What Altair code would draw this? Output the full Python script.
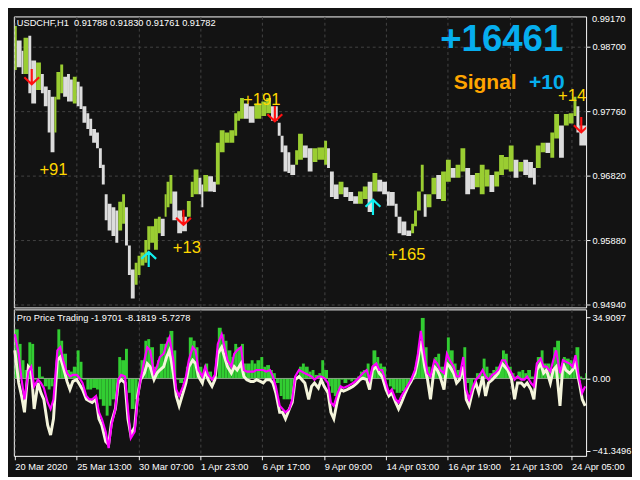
import json
import altair as alt
import pandas as pd

# ---------------- price panel (H1 bars, sampled) ----------------
bar_start = [1, 3, 8, 10, 15, 18, 23, 28, 31, 35,
             38, 42, 44, 48, 51, 55, 58, 61, 65, 68,
             71, 75, 78, 81, 85, 88, 91, 94, 97, 101,
             105, 108, 112, 115, 118, 121, 125, 128, 131, 135,
             138, 141, 145, 149, 152, 156, 158, 161, 164, 169,
             174, 179, 183, 186, 191, 194, 196, 201, 206, 209,
             213, 218, 223, 228, 231, 234, 238, 243, 249, 256,
             261, 266, 273, 276, 279, 283, 286, 291, 294, 299,
             304, 309, 314, 321, 324, 327, 331, 336, 341, 346,
             351, 356, 361, 366, 371, 376, 381, 386, 389, 394,
             397, 401, 406, 411, 414, 417, 421, 424, 427, 432,
             437, 442, 447, 452, 457, 462, 467, 472, 477, 482,
             487, 492, 497, 502, 507, 512, 517, 522, 527, 532,
             537, 540, 545, 550, 555, 559, 564, 569, 574, 579,
             582, 585]
bar_high = [0.9900, 0.9879, 0.9864, 0.9883, 0.9886, 0.9850, 0.9847, 0.9830, 0.9812, 0.9807,
            0.9797, 0.9797, 0.9833, 0.9844, 0.9826, 0.9830, 0.9822, 0.9826, 0.9819, 0.9812,
            0.9783, 0.9773, 0.9765, 0.9750, 0.9745, 0.9722, 0.9698, 0.9655, 0.9641, 0.9636,
            0.9631, 0.9644, 0.9655, 0.9636, 0.9580, 0.9545, 0.9555, 0.9565, 0.9570, 0.9588,
            0.9608, 0.9608, 0.9619, 0.9622, 0.9619, 0.9655, 0.9673, 0.9683, 0.9659, 0.9631,
            0.9622, 0.9645, 0.9673, 0.9691, 0.9679, 0.9669, 0.9683, 0.9681, 0.9673, 0.9730,
            0.9748, 0.9745, 0.9748, 0.9773, 0.9776, 0.9795, 0.9787, 0.9783, 0.9787, 0.9790,
            0.9795, 0.9783, 0.9759, 0.9740, 0.9726, 0.9716, 0.9698, 0.9719, 0.9743, 0.9726,
            0.9722, 0.9722, 0.9723, 0.9733, 0.9722, 0.9688, 0.9669, 0.9673, 0.9665, 0.9658,
            0.9652, 0.9659, 0.9666, 0.9673, 0.9686, 0.9676, 0.9673, 0.9659, 0.9658, 0.9641,
            0.9622, 0.9615, 0.9602, 0.9612, 0.9631, 0.9659, 0.9698, 0.9655, 0.9655, 0.9679,
            0.9683, 0.9688, 0.9705, 0.9693, 0.9698, 0.9722, 0.9693, 0.9683, 0.9686, 0.9698,
            0.9691, 0.9683, 0.9688, 0.9712, 0.9709, 0.9726, 0.9705, 0.9702, 0.9705, 0.9702,
            0.9693, 0.9726, 0.9730, 0.9730, 0.9745, 0.9772, 0.9755, 0.9772, 0.9773, 0.9797,
            0.9783, 0.9755]
bar_low = [0.9836, 0.9840, 0.9830, 0.9830, 0.9802, 0.9787, 0.9807, 0.9802, 0.9783, 0.9745,
           0.9716, 0.9745, 0.9793, 0.9802, 0.9797, 0.9790, 0.9790, 0.9787, 0.9783, 0.9779,
           0.9759, 0.9750, 0.9740, 0.9730, 0.9722, 0.9693, 0.9669, 0.9617, 0.9602, 0.9594,
           0.9584, 0.9602, 0.9612, 0.9580, 0.9537, 0.9503, 0.9523, 0.9537, 0.9551, 0.9555,
           0.9574, 0.9584, 0.9574, 0.9598, 0.9594, 0.9622, 0.9636, 0.9641, 0.9617, 0.9598,
           0.9601, 0.9622, 0.9651, 0.9655, 0.9655, 0.9636, 0.9659, 0.9659, 0.9658, 0.9669,
           0.9716, 0.9730, 0.9730, 0.9740, 0.9762, 0.9765, 0.9765, 0.9759, 0.9765, 0.9769,
           0.9773, 0.9762, 0.9740, 0.9716, 0.9688, 0.9686, 0.9683, 0.9698, 0.9705, 0.9708,
           0.9688, 0.9702, 0.9705, 0.9698, 0.9693, 0.9651, 0.9648, 0.9655, 0.9651, 0.9645,
           0.9641, 0.9641, 0.9648, 0.9629, 0.9659, 0.9659, 0.9655, 0.9638, 0.9638, 0.9622,
           0.9598, 0.9595, 0.9594, 0.9598, 0.9608, 0.9631, 0.9659, 0.9622, 0.9636, 0.9655,
           0.9648, 0.9645, 0.9673, 0.9679, 0.9679, 0.9688, 0.9655, 0.9662, 0.9665, 0.9655,
           0.9666, 0.9658, 0.9666, 0.9683, 0.9691, 0.9688, 0.9679, 0.9688, 0.9683, 0.9679,
           0.9669, 0.9693, 0.9716, 0.9715, 0.9708, 0.9736, 0.9708, 0.9755, 0.9758, 0.9769,
           0.9745, 0.9726]
LAST_HOUR = 592

price_ticks = [0.9870, 0.9823, 0.9776, 0.9729, 0.9682, 0.9635, 0.9588, 0.9541, 0.9494]
PRICE_DOMAIN = [0.94898, 0.99141]

# signals
sell_idx = [18.5, 175.5, 270, 587]
sell_price = [0.9826, 0.9621, 0.9772, 0.9756]
buy_idx = [139.5, 371.5]
buy_price = [0.9560, 0.9636]
trade_idx = [41, 179, 256.5, 406.5, 577.5]
trade_price = [0.96834, 0.95695, 0.97845, 0.95595, 0.97902]
trade_text = ["+91", "+13", "+191", "+165", "+14"]

# ---------------- oscillator panel ----------------
osc_idx = [1, 5, 8, 11, 15, 18, 21, 25, 28, 31,
           35, 38, 41, 45, 48, 51, 55, 58, 61, 65,
           68, 71, 75, 78, 81, 85, 88, 91, 95, 98,
           101, 105, 108, 111, 115, 118, 121, 125, 128, 131,
           135, 138, 141, 145, 148, 151, 155, 158, 161, 165,
           168, 171, 175, 178, 181, 185, 188, 191, 195, 198,
           201, 205, 208, 211, 215, 218, 221, 225, 228, 231,
           235, 238, 241, 245, 248, 251, 255, 258, 261, 265,
           268, 271, 275, 278, 281, 285, 288, 291, 295, 298,
           301, 305, 308, 311, 315,
           318, 321, 325, 328, 331, 335, 338, 341, 345, 348,
           351, 355, 358, 361, 365, 368, 371, 375, 378, 381,
           385, 388, 391, 395, 398, 401, 405, 408, 411, 415,
           418, 421, 425, 428, 431, 435, 438, 441, 445, 448,
           451, 455, 458, 461, 465, 468, 471, 475, 478, 481,
           485, 488, 491, 495, 498, 501, 505, 508, 511, 515,
           518, 521, 525, 528, 531, 535, 538, 541, 545, 548,
           551, 555, 558, 561, 565, 568, 571, 575, 578, 581, 585, 588, 591]
osc_hist = [28.0, 19.7, 10.4, 4.8, 20.6, 19.7, -0.7, 6.7, 1.1, -4.5,
            -6.3, -4.5, -0.7, 28.0, 21.5, 14.1, 4.8, 3.9, 6.7, 16.0,
            9.5, -0.7, -6.3, -6.3, -5.4, -6.3, -11.9, -15.6, -21.2, -15.6,
            -11.9, -10.0, 12.2, 10.4, 16.9, -8.2, -17.4, -11.9, -0.7, 10.4,
            21.5, 22.4, 17.8, 6.7, 10.4, 19.7, 19.7, 23.4, 27.1, 16.0,
            -0.7, -2.6, -0.7, 6.7, 23.4, 21.5, 17.8, 6.7, -0.7, 8.5,
            3.9, -0.7, 1.1, 28.9, 25.2, 21.5, 16.0, 12.2, 19.7, 17.8,
            19.7, 8.5, 8.5, 10.4, 8.5, 10.4, 12.2, 6.7, 7.6, 4.8,
            3.0, -2.6, -10.0, -11.9, -11.9, -11.9, -8.2, 1.1, 6.7, 8.5,
            6.7, 3.9, 4.8, 2.0, 3.0,
            10.4, 4.8, -4.5, -8.2, -10.0, -6.3, -0.7, -2.6, -0.7, -1.7,
            -0.7, 1.1, 3.9, 4.8, 8.5, 1.1, 16.0, 12.2, 8.5, 6.7,
            -0.7, -4.5, -6.3, -8.2, -8.2, -7.2, -4.5, -2.6, -0.7, 6.7,
            19.7, 34.5, 17.8, 6.7, 1.1, 12.2, 14.1, 6.7, 4.8, 23.4,
            16.0, 8.5, 4.8, 4.8, 17.8, -2.6, -8.2, -0.7, 3.0, 3.0,
            11.3, 6.7, 3.0, 4.8, 6.7, 6.7, 16.0, 14.1, 6.7, 3.0,
            1.1, 3.9, 4.8, 3.0, 4.8, 1.1, -0.7, 12.2, 16.0, 8.5,
            8.5, 4.8, 17.8, 21.5, 6.7, 12.2, 11.3, 10.4, 8.5, 17.8, 1.1, -0.7, 3.0]
osc_fast = [25.2, 14.1, -0.7, -11.9, 3.9, 6.7, -4.5, -0.7, -2.6, -5.4,
            -13.7, -17.4, -11.9, 16.0, 17.8, 10.4, 3.0, 1.1, 2.0, 2.0,
            0.2, -2.6, -10.0, -11.9, -11.9, -10.0, -19.3, -23.0, -30.4, -39.7,
            -26.7, -17.4, -0.7, 2.0, 1.1, -17.4, -34.1, -30.4, -11.9, -0.7,
            10.4, 17.8, 16.0, 3.0, 6.7, 12.2, 14.1, 19.7, 23.4, 10.4,
            -6.3, -10.0, -4.5, 1.1, 10.4, 17.8, 16.0, 4.8, 1.1, 6.7,
            2.0, -0.7, 2.0, 19.7, 25.2, 17.8, 10.4, 6.7, 14.1, 16.0,
            17.8, 4.8, 3.9, 3.9, 3.9, 4.8, 4.8, 4.8, 3.9, 4.8,
            1.1, -4.5, -15.6, -17.4, -19.3, -17.4, -11.9, 1.1, 4.8, 3.9,
            3.0, 2.0, 1.1, -0.7, 1.1,
            1.1, 0.2, -2.6, -13.7, -15.6, -8.2, -4.5, -5.4, -4.5, -3.5,
            -2.6, -0.7, 1.1, 3.0, 4.8, -0.7, 6.7, 8.5, 4.8, 4.8,
            -2.6, -8.2, -6.3, -11.9, -13.7, -10.0, -6.3, -3.5, -0.7, 4.8,
            14.1, 27.1, 12.2, 3.0, 1.1, 10.4, 8.5, 4.8, 3.0, 14.1,
            10.4, 6.7, 1.1, 1.1, 12.2, -6.3, -11.9, -4.5, -0.7, 1.1,
            4.8, 1.1, -0.7, 2.0, 3.0, 4.8, 10.4, 10.4, 6.7, 3.0,
            -0.7, 1.1, -0.7, -0.7, 1.1, -2.6, -4.5, 8.5, 11.3, 6.7,
            6.7, 3.9, 10.4, 16.0, 3.0, 10.4, 9.5, 8.5, 6.7, 13.2, -0.7, -8.2, -4.5]
osc_slow = [16.0, -2.6, -10.0, -19.3, 6.7, 4.8, -17.4, -2.6, -8.2, -11.9,
            -26.7, -32.3, -23.0, 10.4, 12.2, 6.7, -1.7, -6.3, -1.7, -0.7,
            -3.5, -6.3, -11.9, -12.8, -13.7, -11.9, -23.0, -26.7, -36.0, -37.8,
            -24.9, -17.4, -2.6, -0.7, -2.6, -23.0, -32.3, -27.6, -10.0, -0.7,
            3.0, 8.5, 6.7, -0.7, 3.0, 4.8, 6.7, 12.2, 16.0, 3.0,
            -10.0, -15.6, -8.2, -2.6, 6.7, 10.4, 8.5, 1.1, -2.6, 4.8,
            -0.7, -4.5, -0.7, 14.1, 17.8, 12.2, 6.7, 3.0, 6.7, 4.8,
            8.5, 1.1, -0.7, -1.7, -1.7, -0.7, -1.7, -2.6, -0.7, -0.7,
            -2.6, -8.2, -19.3, -19.3, -23.0, -17.4, -13.7, -0.7, 1.1, -0.7,
            -2.6, -11.9, -4.5, -2.6, -5.4,
            -0.7, -4.5, -8.2, -19.3, -23.0, -11.9, -6.3, -7.2, -6.3, -5.4,
            -4.5, -2.6, -0.7, 0.2, -0.7, -6.3, 4.8, 6.7, 3.0, 1.1,
            -6.3, -10.0, -8.2, -13.7, -17.4, -13.7, -8.2, -4.5, -1.7, 3.0,
            10.4, 21.5, 6.7, -0.7, -11.9, 6.7, 4.8, 1.1, -6.3, 8.5,
            6.7, 3.0, -2.6, -0.7, 6.7, -11.9, -15.6, -6.3, -2.6, -8.2,
            1.1, -10.0, -2.6, -0.7, 1.1, 3.0, 8.5, 6.7, 4.8, -0.7,
            -11.9, -2.6, -2.6, -4.5, -2.6, -6.3, -11.9, 4.8, 8.5, 3.0,
            4.8, -2.6, 4.8, 6.7, -15.6, 8.5, 4.8, 3.0, 4.8, 8.5, -2.6, -11.9, -15.6]
osc_ticks = [34.9097, 0.0, -41.3496]
OSC_DOMAIN = [-44.15, 39.37]

time_idx = [1, 65, 129, 193, 257, 321, 385, 449, 513, 577]
time_labels = ["20 Mar 2020", "25 Mar 13:00", "30 Mar 07:00", "1 Apr 23:00", "6 Apr 17:00",
               "9 Apr 09:00", "14 Apr 03:00", "16 Apr 19:00", "21 Apr 13:00", "24 Apr 05:00"]

header_text = "USDCHF,H1\u00a0 0.91788 0.91830 0.91761 0.91782"
osc_header = "Pro Price Trading -1.9701 -8.1819 -5.7278"

# ---------------- styling ----------------
BG = "#131313"
GRID = "#444444"
FONT = "Liberation Sans"
FS = 9.5
W = 586
H_TOP = 298
H_BOT = 150

bars = pd.DataFrame({"start": bar_start, "high": bar_high, "low": bar_low})
bars["end"] = bar_start[1:] + [LAST_HOUR]
mid = (bars["high"] + bars["low"]) / 2
bars["dir"] = ["up" if i == 0 or mid[i] >= mid[i - 1] else "down" for i in range(len(mid))]

osc = pd.DataFrame({"idx": osc_idx, "hist": osc_hist, "fast": osc_fast, "slow": osc_slow})
osc["end"] = osc_idx[1:] + [LAST_HOUR]
osc["zero"] = 0.0

xs = alt.Scale(domain=[0, LAST_HOUR], nice=False, zero=False)
ys = alt.Scale(domain=PRICE_DOMAIN, nice=False, zero=False)
os_ = alt.Scale(domain=OSC_DOMAIN, nice=False, zero=False)

top_x_axis = alt.Axis(values=time_idx, labels=False, ticks=False, domain=False, grid=True,
                      gridColor=GRID, gridDash=[3, 3], gridWidth=1, title=None)
top_y_axis = alt.Axis(orient="right", values=price_ticks, format=".5f", grid=True,
                      gridColor=GRID, gridDash=[3, 3], gridWidth=1, domain=False,
                      tickColor="#FFFFFF", tickSize=4, labelPadding=2, labelColor="#FFFFFF",
                      labelFont=FONT, labelFontSize=FS, labelOverlap=False, labelFlush=False,
                      title=None)

bar_layer = alt.Chart(bars).mark_rect(clip=True).encode(
    x=alt.X("start:Q", scale=xs, axis=top_x_axis),
    x2="end:Q",
    y=alt.Y("low:Q", scale=ys, axis=top_y_axis),
    y2="high:Q",
    color=alt.Color("dir:N", scale=alt.Scale(domain=["up", "down"], range=["#9ACD32", "#DCDCDC"]),
                    legend=None),
)

DOWN_PATH = "M0,-1L0,0.95M-0.95,0.05L0,0.95L0.95,0.05"
UP_PATH = "M0,1L0,-0.95M-0.95,-0.05L0,-0.95L0.95,-0.05"

sell_layer = alt.Chart(pd.DataFrame({"idx": sell_idx, "price": sell_price})).mark_point(
    shape=DOWN_PATH, size=256, filled=False, stroke="#FF1010", strokeWidth=2.2, opacity=1, clip=True
).encode(x=alt.X("idx:Q", scale=xs), y=alt.Y("price:Q", scale=ys))

buy_layer = alt.Chart(pd.DataFrame({"idx": buy_idx, "price": buy_price})).mark_point(
    shape=UP_PATH, size=256, filled=False, stroke="#10F0F0", strokeWidth=2.2, opacity=1
).encode(x=alt.X("idx:Q", scale=xs), y=alt.Y("price:Q", scale=ys))

trade_layer = alt.Chart(pd.DataFrame({"idx": trade_idx, "price": trade_price, "t": trade_text})).mark_text(
    font=FONT, fontSize=17, color="#FFD700", align="center", baseline="alphabetic", clip=True
).encode(x=alt.X("idx:Q", scale=xs), y=alt.Y("price:Q", scale=ys), text="t:N")

big_df = pd.DataFrame({
    "idx": [441, 455, 533],
    "price": [0.98630, 0.98087, 0.98087],
    "t": ["+16461", "Signal", "+10"],
    "c": ["#06AEEE", "#FFA500", "#06AEEE"],
    "s": [37.5, 21.5, 21.5],
})
big_layer = alt.Chart(big_df).mark_text(
    font=FONT, fontWeight="bold", align="left", baseline="alphabetic"
).encode(
    x=alt.X("idx:Q", scale=xs), y=alt.Y("price:Q", scale=ys), text="t:N",
    color=alt.Color("c:N", scale=None), size=alt.Size("s:Q", scale=None),
)

header_layer = alt.Chart(pd.DataFrame({"t": [header_text]})).mark_text(
    font=FONT, fontSize=FS, color="#FFFFFF", align="left", baseline="middle"
).encode(x=alt.value(3), y=alt.value(7), text="t:N")

top_label_layer = alt.Chart(pd.DataFrame({"t": ["0.99170"]})).mark_text(
    font=FONT, fontSize=FS, color="#FFFFFF", align="left", baseline="middle"
).encode(x=alt.value(W + 6), y=alt.value(3), text="t:N")

top = alt.layer(bar_layer, sell_layer, buy_layer, trade_layer, big_layer, header_layer,
                top_label_layer).properties(width=W, height=H_TOP)

label_expr = "%s[indexof(%s, datum.value)]" % (json.dumps(time_labels).replace('"', "'"),
                                                json.dumps(time_idx))
bot_x_axis = alt.Axis(values=time_idx, labelExpr=label_expr, labelAlign="left", labelFlush=False,
                      labelOverlap=False, labelColor="#FFFFFF", labelFont=FONT, labelFontSize=FS,
                      labelPadding=2, tickColor="#FFFFFF", tickSize=4, grid=True, gridColor=GRID,
                      gridDash=[3, 3], gridWidth=1, domain=False, title=None)
bot_y_axis = alt.Axis(orient="right", values=osc_ticks,
                      labelExpr="datum.value == 0 ? '0.00' : format(datum.value, '.4f')",
                      grid=False, domain=False, tickColor="#FFFFFF", tickSize=4, labelPadding=2,
                      labelColor="#FFFFFF", labelFont=FONT, labelFontSize=FS, labelOverlap=False,
                      labelFlush=False, title=None)

hist_layer = alt.Chart(osc).mark_rect(color="#32CD32").encode(
    x=alt.X("idx:Q", scale=xs, axis=bot_x_axis),
    x2="end:Q",
    y=alt.Y("hist:Q", scale=os_, axis=bot_y_axis),
    y2="zero:Q",
)
zero_layer = alt.Chart(pd.DataFrame({"v": [0.0]})).mark_rule(color="#8FA88A", strokeWidth=1).encode(
    y=alt.Y("v:Q", scale=os_)
)
slow_layer = alt.Chart(osc).mark_line(color="#F5F5DC", strokeWidth=3, strokeJoin="miter").encode(
    x=alt.X("idx:Q", scale=xs), y=alt.Y("slow:Q", scale=os_)
)
fast_layer = alt.Chart(osc).mark_line(color="#FF00FF", strokeWidth=2.2, strokeJoin="miter").encode(
    x=alt.X("idx:Q", scale=xs), y=alt.Y("fast:Q", scale=os_)
)
osc_header_layer = alt.Chart(pd.DataFrame({"t": [osc_header]})).mark_text(
    font=FONT, fontSize=FS, color="#FFFFFF", align="left", baseline="middle"
).encode(x=alt.value(3), y=alt.value(9), text="t:N")

bottom = alt.layer(hist_layer, zero_layer, slow_layer, fast_layer, osc_header_layer).properties(
    width=W, height=H_BOT)

chart = alt.vconcat(top, bottom, spacing=2, bounds="flush").properties(
    padding={"left": 0, "top": 0, "right": 0, "bottom": 0}
).configure(background=BG).configure_view(stroke="#FFFFFF", strokeWidth=1, fill=BG)

chart.save("out.html", embed_options={"renderer": "svg", "actions": False})
